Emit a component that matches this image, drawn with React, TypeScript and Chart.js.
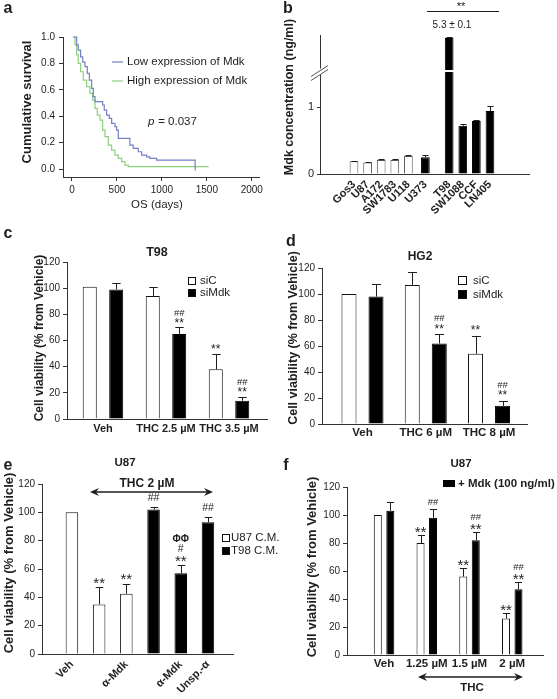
import React, { useEffect, useRef } from 'react';
import { Chart, registerables, LinearScale } from 'chart.js';

Chart.register(...registerables);

const FONT = "'Liberation Sans', Arial, Helvetica, sans-serif";
const INK = '#1e1e1e';
const AXIS = '#333333';
const BLUE = '#7380c6';
const GREEN = '#8ccf7c';

Chart.defaults.font.family = FONT;
Chart.defaults.color = INK;

// ---------------- data ----------------
// (a) Kaplan-Meier survival
const lowDays = [15, 52, 70, 96, 119, 144, 170, 193, 219, 237, 256, 341, 359, 385, 415, 441, 478, 496, 515, 644, 681, 737, 774, 830, 867, 941, 1370];
const lowSurv = [1.0, 0.94, 0.9, 0.85, 0.81, 0.775, 0.725, 0.674, 0.611, 0.548, 0.51, 0.485, 0.447, 0.409, 0.384, 0.346, 0.321, 0.295, 0.232, 0.182, 0.157, 0.131, 0.106, 0.093, 0.081, 0.068, -0.01];
const highDays = [15, 33, 52, 70, 96, 126, 163, 200, 230, 256, 281, 311, 341, 367, 404, 441, 478, 515, 552, 589, 626, 1520];
const highSurv = [1.0, 0.94, 0.864, 0.8, 0.737, 0.674, 0.624, 0.573, 0.523, 0.46, 0.409, 0.371, 0.295, 0.245, 0.182, 0.144, 0.106, 0.081, 0.056, 0.03, 0.018, 0.018];
const survTicks = [0, 0.2, 0.4, 0.6, 0.8, 1.0];
const dayTicks = [0, 500, 1000, 1500, 2000];

// (b) Mdk concentration
const bCellLines = ['Gos3', 'U87', 'A172', 'SW1783', 'U118', 'U373', 'T98', 'SW1088', 'CCF', 'LN405'];
const bValues = [0.19, 0.17, 0.21, 0.21, 0.27, 0.25, 5.3, 0.72, 0.79, 0.94];
const bErrors = [0.005, 0.01, 0.02, 0.02, 0.01, 0.04, 0.1, 0.02, 0.01, 0.07];
const bHighGroup = [false, false, false, false, false, true, true, true, true, true];
const bTicks = [0, 1];

// (c) T98
const cCategories = ['Veh', 'THC 2.5 \u00b5M', 'THC 3.5 \u00b5M'];
const cSiC = [101, 94, 38];
const cSiCErr = [0, 7, 12];
const cSiCMarks = [[], [], ['**']];
const cSiMdk = [99, 65, 14];
const cSiMdkErr = [5, 5, 3];
const cSiMdkMarks = [[], ['##', '**'], ['##', '**']];

// (d) HG2
const dCategories = ['Veh', 'THC 6 \u00b5M', 'THC 8 \u00b5M'];
const dSiC = [100, 107, 54];
const dSiCErr = [0, 10, 14];
const dSiCMarks = [[], [], ['**']];
const dSiMdk = [98, 62, 14];
const dSiMdkErr = [10, 7, 4];
const dSiMdkMarks = [[], ['##', '**'], ['##', '**']];

// (e) U87 conditioned media
const eTickLabels = ['Veh', '', '\u03b1-Mdk', '', '\u03b1-Mdk', 'Unsp.-\u03b1'];
const eU87 = [100, 35, 42.5];
const eU87Err = [0, 12, 7];
const eU87Marks = [[], ['**'], ['**']];
const eT98 = [102, 57, 93];
const eT98Err = [2, 5.5, 4];
const eT98Marks = [['##'], ['\u03a6\u03a6', '#', '**'], ['##']];

// (f) U87 + Mdk
const fCategories = ['Veh', '1.25 \u00b5M', '1.5 \u00b5M', '2 \u00b5M'];
const fCtrl = [100, 80, 56, 26];
const fCtrlErr = [0, 6, 6, 4];
const fCtrlMarks = [[], ['**'], ['**'], ['**']];
const fMdk = [103, 98, 82, 47];
const fMdkErr = [6, 6.5, 6, 5];
const fMdkMarks = [[], ['##'], ['##', '**'], ['##', '**']];

const viabTicks = [0, 20, 40, 60, 80, 100, 120];

// ---------------- broken axis scale for (b) ----------------
const B_BREAK = 1.5;
const B_COMPRESS = 0.14;
class BrokenLinearScale extends LinearScale {
  static id = 'brokenLinear';
  static defaults = LinearScale.defaults;
  getPixelForValue(value: number) {
    const v = value > B_BREAK ? B_BREAK + (value - B_BREAK) * B_COMPRESS : value;
    return super.getPixelForValue(v);
  }
}
Chart.register(BrokenLinearScale as any);

// ---------------- drawing helpers ----------------
function text(ctx: CanvasRenderingContext2D, s: string, x: number, y: number, o: any = {}) {
  ctx.save();
  ctx.font = `${o.italic ? 'italic ' : ''}${o.bold ? 'bold ' : ''}${o.size || 11}px ${FONT}`;
  ctx.fillStyle = o.color || INK;
  ctx.textAlign = o.align || 'center';
  ctx.textBaseline = o.baseline || 'middle';
  ctx.translate(x, y);
  if (o.rotate) ctx.rotate(o.rotate);
  ctx.fillText(s, 0, 0);
  ctx.restore();
}

function box(ctx: CanvasRenderingContext2D, x: number, y: number, w: number, h: number, fill: string) {
  ctx.save();
  ctx.fillStyle = fill;
  ctx.fillRect(x, y, w, h);
  ctx.strokeStyle = '#111';
  ctx.lineWidth = 1;
  ctx.strokeRect(x + 0.5, y + 0.5, w - 1, h - 1);
  ctx.restore();
}

function dblArrow(ctx: CanvasRenderingContext2D, x1: number, x2: number, y: number) {
  ctx.save();
  ctx.strokeStyle = INK;
  ctx.fillStyle = INK;
  ctx.lineWidth = 1.5;
  ctx.beginPath();
  ctx.moveTo(x1 + 5, y);
  ctx.lineTo(x2 - 5, y);
  ctx.stroke();
  ctx.beginPath();
  ctx.moveTo(x1, y);
  ctx.lineTo(x1 + 9, y - 4);
  ctx.lineTo(x1 + 6, y);
  ctx.lineTo(x1 + 9, y + 4);
  ctx.closePath();
  ctx.fill();
  ctx.beginPath();
  ctx.moveTo(x2, y);
  ctx.lineTo(x2 - 9, y - 4);
  ctx.lineTo(x2 - 6, y);
  ctx.lineTo(x2 - 9, y + 4);
  ctx.closePath();
  ctx.fill();
  ctx.restore();
}

function drawMarks(ctx: CanvasRenderingContext2D, list: string[], x: number, topPx: number, st: any) {
  let cursor = topPx - st.gap;
  const items = [...list].reverse();
  for (const t of items) {
    const isStar = /^\*+$/.test(t);
    const isPhi = t.includes('\u03a6');
    const fs = isStar ? st.star : isPhi ? st.phi : st.hash;
    const h = (isStar ? 0.3 : 0.72) * fs;
    const c = cursor - h / 2;
    ctx.save();
    ctx.font = `${isPhi ? 'bold ' : ''}${fs}px ${FONT}`;
    ctx.fillStyle = INK;
    ctx.textAlign = 'center';
    ctx.textBaseline = 'middle';
    ctx.fillText(t, x, c + (isStar ? 0.22 * fs : 0));
    ctx.restore();
    cursor -= h + st.sp;
  }
}

function yAxis(spec: any, type = 'linear') {
  return {
    type,
    min: spec.yMin,
    max: spec.yMax,
    offset: false,
    grace: 0,
    afterFit: (s: any) => { s.width = spec.area.left; },
    afterBuildTicks: (s: any) => { s.ticks = spec.yTicks.map((v: number) => ({ value: v })); },
    ticks: {
      padding: spec.yPad ?? 3,
      color: INK,
      font: { size: spec.yFont || 10, family: FONT },
      callback: spec.yFmt || ((v: any) => String(v)),
    },
    grid: { display: true, drawOnChartArea: false, drawTicks: true, tickLength: spec.yTick ?? 4, color: AXIS, lineWidth: 1, offset: false },
    border: { display: true, color: AXIS, width: 1 },
  };
}

function makeBar(spec: any) {
  return (W: number, H: number) => ({
    type: 'bar',
    data: {
      datasets: spec.series.map((s: any) => ({
        data: s.x.map((x: number, i: number) => ({ x, y: s.y[i] })),
        backgroundColor: s.fill,
        borderColor: s.stroke || '#111',
        borderWidth: 1,
        categoryPercentage: spec.catPct,
        barPercentage: spec.barPct,
        grouped: spec.grouped,
        errors: s.err,
        marks: s.marks,
      })),
    },
    options: {
      responsive: false,
      animation: false,
      events: [],
      layout: { padding: { left: 0, top: spec.area.top, right: W - spec.area.right, bottom: 0 } },
      plugins: { legend: { display: false }, tooltip: { enabled: false } },
      scales: {
        x: {
          type: 'linear',
          min: spec.xMin,
          max: spec.xMax,
          offset: false,
          bounds: 'data',
          grace: 0,
          afterFit: (s: any) => { s.height = H - spec.area.bottom; },
          afterBuildTicks: (s: any) => { s.ticks = spec.tickPos.map((v: number) => ({ value: v })); },
          ticks: {
            autoSkip: false,
            minRotation: spec.rot || 0,
            maxRotation: spec.rot || 0,
            padding: spec.xPad,
            color: INK,
            font: { size: spec.xFont, weight: 'bold', family: FONT },
            callback: (_v: any, i: number) => spec.tickLabels[i],
          },
          grid: { display: false, drawTicks: false, offset: false },
          border: { display: true, color: AXIS, width: 1 },
        },
        y: yAxis(spec, spec.yType || 'linear'),
      },
    },
    plugins: [
      {
        id: 'decor',
        afterDatasetsDraw(chart: any) {
          const ctx = chart.ctx as CanvasRenderingContext2D;
          const yScale = chart.scales.y;
          chart.data.datasets.forEach((ds: any, di: number) => {
            const meta = chart.getDatasetMeta(di);
            meta.data.forEach((el: any, j: number) => {
              const v = ds.data[j].y;
              const e = (ds.errors && ds.errors[j]) || 0;
              const topPx = yScale.getPixelForValue(v + e);
              if (e > 0) {
                const x = Math.round(el.x) + 0.5;
                const ty = Math.round(topPx) + 0.5;
                const cap = el.width * (spec.capRatio || 0.6);
                ctx.save();
                ctx.strokeStyle = INK;
                ctx.lineWidth = 1;
                ctx.beginPath();
                ctx.moveTo(x, el.y);
                ctx.lineTo(x, ty);
                ctx.moveTo(x - cap / 2, ty);
                ctx.lineTo(x + cap / 2, ty);
                ctx.stroke();
                ctx.restore();
              }
              const m = ds.marks && ds.marks[j];
              if (m && m.length) drawMarks(ctx, m, el.x, topPx, spec.markStyle);
            });
          });
          if (spec.draw) spec.draw(ctx, chart);
        },
      },
    ],
  });
}

// ---------------- panel (a) ----------------
function makeA(W: number, H: number) {
  const area = { left: 63, top: 37, right: 259, bottom: 177 };
  return {
    type: 'line',
    data: {
      datasets: [
        { data: lowDays.map((d, i) => ({ x: d, y: lowSurv[i] })), borderColor: BLUE, borderWidth: 1.2, stepped: true, pointRadius: 0, fill: false, clip: 3 },
        { data: highDays.map((d, i) => ({ x: d, y: highSurv[i] })), borderColor: GREEN, borderWidth: 1.2, stepped: true, pointRadius: 0, fill: false, clip: 3 },
      ],
    },
    options: {
      responsive: false,
      animation: false,
      events: [],
      layout: { padding: { left: 0, top: area.top, right: W - area.right, bottom: 0 } },
      plugins: { legend: { display: false }, tooltip: { enabled: false } },
      scales: {
        x: {
          type: 'linear',
          min: -100,
          max: 2080,
          afterFit: (s: any) => { s.height = H - area.bottom; },
          afterBuildTicks: (s: any) => { s.ticks = dayTicks.map((v) => ({ value: v })); },
          ticks: { padding: 3, color: INK, maxRotation: 0, font: { size: 10, family: FONT }, callback: (v: any) => String(v) },
          grid: { display: true, drawOnChartArea: false, drawTicks: true, tickLength: 4, color: AXIS },
          border: { display: true, color: AXIS, width: 1 },
        },
        y: yAxis({ area, yMin: -0.06, yMax: 1.0, yTicks: survTicks, yFmt: (v: any) => Number(v).toFixed(1), yPad: 4 }),
      },
    },
    plugins: [
      {
        id: 'aDecor',
        afterDraw(chart: any) {
          const ctx = chart.ctx as CanvasRenderingContext2D;
          text(ctx, 'a', 8, 9, { size: 16, bold: true });
          text(ctx, 'Cumulative survival', 27, 102, { size: 13, bold: true, rotate: -Math.PI / 2 });
          text(ctx, 'OS (days)', 157, 205, { size: 11.5 });
          ctx.save();
          ctx.lineWidth = 1.2;
          ctx.strokeStyle = BLUE;
          ctx.beginPath(); ctx.moveTo(112, 62); ctx.lineTo(123, 62); ctx.stroke();
          ctx.strokeStyle = GREEN;
          ctx.beginPath(); ctx.moveTo(112, 81); ctx.lineTo(123, 81); ctx.stroke();
          ctx.restore();
          text(ctx, 'Low expression of Mdk', 127, 62, { size: 11.5, align: 'left' });
          text(ctx, 'High expression of Mdk', 127, 81, { size: 11.5, align: 'left' });
          text(ctx, 'p', 148, 122, { size: 11.5, italic: true, align: 'left' });
          text(ctx, ' = 0.037', 155, 122, { size: 11.5, align: 'left' });
        },
      },
    ],
  };
}

// ---------------- panel (b) ----------------
const bPos = bCellLines.map((_, i) => i + (i >= 5 ? 0.25 : 0) + (i >= 6 ? 0.75 : 0));
const makeB = makeBar({
  area: { left: 40, top: 35, right: 249, bottom: 174 },
  xMin: -2.5, xMax: 12.87,
  tickPos: bPos, tickLabels: bCellLines, rot: 45, xFont: 11, xPad: 4,
  yType: 'brokenLinear', yMin: 0, yMax: 2.075, yTicks: bTicks, yFont: 11, yTick: 3,
  catPct: 0.8, barPct: 0.8, grouped: true, capRatio: 0.7,
  series: [{
    x: bPos, y: bValues, err: bErrors, marks: [],
    fill: bHighGroup.map((h) => (h ? '#000' : '#fff')),
    stroke: bHighGroup.map((h) => (h ? '#000' : '#555')),
  }],
  markStyle: { star: 11, hash: 9, phi: 10, gap: 4, sp: 2 },
  draw: (ctx: CanvasRenderingContext2D, chart: any) => {
    const yScale = chart.scales.y;
    const brk = yScale.getPixelForValue(B_BREAK);
    const meta = chart.getDatasetMeta(0);
    const el: any = meta.data[bCellLines.indexOf('T98')];
    ctx.save();
    ctx.fillStyle = '#fff';
    ctx.fillRect(el.x - el.width / 2 - 1, brk - 3.5, el.width + 2, 2);
    const ax = chart.chartArea.left;
    ctx.fillRect(ax - 2, brk - 5, 4, 6);
    ctx.strokeStyle = '#555';
    ctx.lineWidth = 1;
    ctx.beginPath();
    ctx.moveTo(ax - 9, brk + 3); ctx.lineTo(ax + 8, brk - 8);
    ctx.moveTo(ax - 9, brk + 7); ctx.lineTo(ax + 8, brk - 4);
    ctx.stroke();
    ctx.strokeStyle = INK;
    ctx.beginPath();
    ctx.moveTo(147, 11.5); ctx.lineTo(219, 11.5);
    ctx.stroke();
    ctx.restore();
    text(ctx, 'b', 8, 9, { size: 16, bold: true });
    text(ctx, 'Mdk concentration (ng/ml)', 10, 97, { size: 12.5, bold: true, rotate: -Math.PI / 2 });
    text(ctx, '**', 181, 7, { size: 11 });
    text(ctx, '5.3 \u00b1 0.1', 172, 25, { size: 10 });
  },
});

// ---------------- panel (c) ----------------
const cPos = cCategories.map((_, i) => i);
const makeC = makeBar({
  area: { left: 67, top: 42, right: 267, bottom: 199 },
  xMin: -0.571, xMax: 2.603,
  tickPos: cPos, tickLabels: cCategories, xFont: 11, xPad: 3,
  yMin: 0, yMax: 120, yTicks: viabTicks, yFont: 10,
  catPct: 0.84, barPct: 0.53, grouped: true, capRatio: 0.6,
  series: [
    { x: cPos, y: cSiC, err: cSiCErr, marks: cSiCMarks, fill: '#fff' },
    { x: cPos, y: cSiMdk, err: cSiMdkErr, marks: cSiMdkMarks, fill: '#000', stroke: '#000' },
  ],
  markStyle: { star: 12, hash: 9.5, phi: 10, gap: 5, sp: 2.5 },
  draw: (ctx: CanvasRenderingContext2D) => {
    text(ctx, 'c', 8, 14, { size: 16, bold: true });
    text(ctx, 'T98', 157, 33, { size: 12.5, bold: true });
    text(ctx, 'Cell viability (% from Vehicle)', 40, 118, { size: 12, bold: true, rotate: -Math.PI / 2 });
    box(ctx, 188, 57, 8, 8, '#fff');
    box(ctx, 188, 69, 8, 8, '#000');
    text(ctx, 'siC', 200, 61, { size: 11.5, align: 'left' });
    text(ctx, 'siMdk', 200, 73, { size: 11.5, align: 'left' });
  },
});

// ---------------- panel (d) ----------------
const dPos = dCategories.map((_, i) => i);
const makeD = makeBar({
  area: { left: 42, top: 48, right: 247, bottom: 204 },
  xMin: -0.64, xMax: 2.6,
  tickPos: dPos, tickLabels: dCategories, xFont: 11.5, xPad: 2,
  yMin: 0, yMax: 120, yTicks: viabTicks, yFont: 10,
  catPct: 0.854, barPct: 0.556, grouped: true, capRatio: 0.6,
  series: [
    { x: dPos, y: dSiC, err: dSiCErr, marks: dSiCMarks, fill: '#fff' },
    { x: dPos, y: dSiMdk, err: dSiMdkErr, marks: dSiMdkMarks, fill: '#000', stroke: '#000' },
  ],
  markStyle: { star: 12, hash: 9.5, phi: 10, gap: 5.5, sp: 3 },
  draw: (ctx: CanvasRenderingContext2D) => {
    text(ctx, 'd', 11, 22, { size: 16, bold: true });
    text(ctx, 'HG2', 140, 37, { size: 12, bold: true });
    text(ctx, 'Cell viability (% from Vehicle)', 14, 118, { size: 12.5, bold: true, rotate: -Math.PI / 2 });
    box(ctx, 178, 56, 9, 9, '#fff');
    box(ctx, 178, 70, 9, 9, '#000');
    text(ctx, 'siC', 193, 61, { size: 11.5, align: 'left' });
    text(ctx, 'siMdk', 193, 75, { size: 11.5, align: 'left' });
  },
});

// ---------------- panel (e) ----------------
const eU87Pos = eU87.map((_, i) => i);
const eT98Pos = eT98.map((_, i) => i + eU87.length);
const makeE = makeBar({
  area: { left: 42, top: 34, right: 233, bottom: 204 },
  xMin: -1.1, xMax: 5.92,
  tickPos: [...eU87Pos, ...eT98Pos], tickLabels: eTickLabels, rot: 45, xFont: 11, xPad: 4,
  yMin: 0, yMax: 120, yTicks: viabTicks, yFont: 10,
  catPct: 0.8, barPct: 0.575, grouped: false, capRatio: 0.6,
  series: [
    { x: eU87Pos, y: eU87, err: eU87Err, marks: eU87Marks, fill: '#fff' },
    { x: eT98Pos, y: eT98, err: eT98Err, marks: eT98Marks, fill: '#000', stroke: '#000' },
  ],
  markStyle: { star: 15, hash: 10.5, phi: 10, gap: 5, sp: 3 },
  draw: (ctx: CanvasRenderingContext2D) => {
    text(ctx, 'e', 8, 16, { size: 16, bold: true });
    text(ctx, 'U87', 125, 13, { size: 11.5, bold: true });
    text(ctx, 'THC 2 \u00b5M', 147, 34, { size: 12, bold: true });
    dblArrow(ctx, 90, 213, 42);
    text(ctx, 'Cell viability (% from Vehicle)', 9, 113, { size: 13, bold: true, rotate: -Math.PI / 2 });
    box(ctx, 222, 84, 8, 8, '#fff');
    box(ctx, 222, 97, 8, 8, '#000');
    text(ctx, 'U87 C.M.', 231, 88, { size: 11.5, align: 'left' });
    text(ctx, 'T98 C.M.', 231, 101, { size: 11.5, align: 'left' });
  },
});

// ---------------- panel (f) ----------------
const fPos = fCategories.map((_, i) => i);
const makeF = makeBar({
  area: { left: 67, top: 37, right: 263, bottom: 205 },
  xMin: -0.867, xMax: 3.72,
  tickPos: fPos, tickLabels: fCategories, xFont: 11.5, xPad: 2,
  yMin: 0, yMax: 120, yTicks: viabTicks, yFont: 10,
  catPct: 0.585, barPct: 0.64, grouped: true, capRatio: 0.9,
  series: [
    { x: fPos, y: fCtrl, err: fCtrlErr, marks: fCtrlMarks, fill: '#fff' },
    { x: fPos, y: fMdk, err: fMdkErr, marks: fMdkMarks, fill: '#000', stroke: '#000' },
  ],
  markStyle: { star: 15, hash: 9.5, phi: 10, gap: 3, sp: 4 },
  draw: (ctx: CanvasRenderingContext2D) => {
    text(ctx, 'f', 6, 16, { size: 16, bold: true });
    text(ctx, 'U87', 181, 14, { size: 11.5, bold: true });
    ctx.save();
    ctx.fillStyle = '#000';
    ctx.fillRect(163, 30, 12, 7);
    ctx.restore();
    text(ctx, '+ Mdk (100 ng/ml)', 178, 34, { size: 11.5, bold: true, align: 'left' });
    text(ctx, 'Cell viability (% from Vehicle)', 32, 117, { size: 13, bold: true, rotate: -Math.PI / 2 });
    dblArrow(ctx, 138, 243, 227);
    text(ctx, 'THC', 192, 238, { size: 11.5, bold: true });
  },
});

// ---------------- components ----------------
function Panel({ left, top, width, height, make }: any) {
  const ref = useRef<HTMLCanvasElement>(null);
  useEffect(() => {
    const chart = new Chart(ref.current as HTMLCanvasElement, make(width, height) as any);
    return () => chart.destroy();
  }, []);
  return (
    <canvas
      ref={ref}
      width={width}
      height={height}
      style={{ position: 'absolute', left, top, width, height }}
    />
  );
}

export default function App() {
  return (
    <div style={{ position: 'absolute', left: 0, top: 0, width: 557, height: 699, background: '#fff', overflow: 'hidden' }}>
      <Panel left={0} top={0} width={280} height={220} make={makeA} />
      <Panel left={280} top={0} width={277} height={230} make={makeB} />
      <Panel left={0} top={220} width={280} height={240} make={makeC} />
      <Panel left={280} top={220} width={277} height={240} make={makeD} />
      <Panel left={280} top={450} width={277} height={249} make={makeF} />
      <Panel left={0} top={450} width={292} height={249} make={makeE} />
    </div>
  );
}
